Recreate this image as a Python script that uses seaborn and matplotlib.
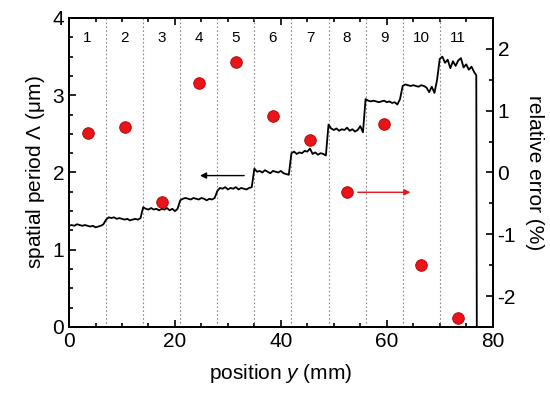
import numpy as np
import pandas as pd
import matplotlib
matplotlib.use("Agg")
import matplotlib.pyplot as plt
from matplotlib.ticker import MultipleLocator
import seaborn as sns

# measured grating period along the sample (0.5 mm sampling), um
period_trace = [
    # section 1
    1.31, 1.32, 1.31, 1.33, 1.32, 1.31, 1.32, 1.31, 1.30, 1.31, 1.29, 1.30, 1.31, 1.33,
    # section 2
    1.39, 1.42, 1.41, 1.42, 1.40, 1.41, 1.40, 1.39, 1.40, 1.38, 1.39, 1.40, 1.39, 1.41,
    # section 3
    1.55, 1.53, 1.52, 1.54, 1.52, 1.53, 1.51, 1.53, 1.52, 1.54, 1.51, 1.53, 1.50, 1.53,
    # section 4
    1.64, 1.66, 1.67, 1.66, 1.65, 1.67, 1.66, 1.65, 1.67, 1.66, 1.64, 1.66, 1.65, 1.67,
    # section 5
    1.76, 1.80, 1.79, 1.81, 1.78, 1.80, 1.79, 1.81, 1.78, 1.80, 1.79, 1.78, 1.80, 1.81,
    # section 6
    2.05, 2.01, 2.02, 2.00, 2.03, 2.01, 1.99, 2.02, 2.01, 2.00, 2.02, 1.99, 1.98, 1.97,
    # section 7
    2.25, 2.27, 2.24, 2.26, 2.25, 2.28, 2.27, 2.31, 2.24, 2.26, 2.23, 2.25, 2.24, 2.22,
    # section 8
    2.62, 2.57, 2.55, 2.57, 2.54, 2.56, 2.55, 2.58, 2.54, 2.56, 2.53, 2.55, 2.60, 2.52,
    # section 9
    2.95, 2.93, 2.92, 2.93, 2.92, 2.91, 2.92, 2.93, 2.91, 2.92, 2.90, 2.91, 2.88, 2.95,
    # section 10
    3.12, 3.14, 3.13, 3.12, 3.13, 3.12, 3.11, 3.13, 3.12, 3.10, 3.04, 3.11, 3.03, 3.20,
    # section 11
    3.47, 3.50, 3.42, 3.46, 3.35, 3.44, 3.38, 3.45, 3.48, 3.36, 3.40, 3.33, 3.37, 3.30,
    # end of sample
    3.26, 0.0,
]
trace_pos = list(np.arange(0, 77, 0.5)) + [76.9, 77.0]

# relative error per section
section_ids = [str(i) for i in range(1, 12)]
section_pos = [3.5, 10.5, 17.5, 24.5, 31.5, 38.5, 45.5, 52.5, 59.5, 66.5, 73.5]
rel_error = [0.64, 0.74, -0.47, 1.44, 1.79, 0.92, 0.53, -0.32, 0.78, -1.50, -2.36]
section_edges = [7, 14, 21, 28, 35, 42, 49, 56, 63, 70]

trace = pd.DataFrame({"pos": trace_pos, "period": period_trace})
errs = pd.DataFrame({"pos": section_pos, "err": rel_error})

sns.set_style("ticks")
plt.rcParams["font.family"] = ["Liberation Sans", "DejaVu Sans"]
plt.rcParams["mathtext.fontset"] = "custom"
plt.rcParams["mathtext.rm"] = "Liberation Sans"
plt.rcParams["mathtext.it"] = "Liberation Sans:italic"
plt.rcParams["axes.unicode_minus"] = False
for k in ["text.color", "axes.labelcolor", "xtick.color", "ytick.color", "axes.edgecolor"]:
    plt.rcParams[k] = "black"

fig = plt.figure(figsize=(5.5, 3.98), dpi=100)
ax = fig.add_axes([0.1255, 0.1784, 0.7703, 0.7764])
ax2 = ax.twinx()

for e in section_edges:
    ax.axvline(e, color="#888888", ls=(0, (1.5, 2)), lw=0.8, zorder=1)

sns.lineplot(data=trace, x="pos", y="period", ax=ax, color="black", lw=1.3, zorder=3)
sns.scatterplot(data=errs, x="pos", y="err", ax=ax2, color="#e8141a", s=70,
                edgecolor="#b00000", linewidth=0.6, zorder=4)

for lab, p in zip(section_ids, section_pos):
    ax.text(p, 3.74, lab, ha="center", va="center", fontsize=11)

# arrows pointing to the matching axes
ax.annotate("", xy=(24.2, 1.96), xytext=(33.6, 1.96),
            arrowprops=dict(arrowstyle="-|>", color="black", lw=1.0, mutation_scale=9))
ax2.annotate("", xy=(65.0, -0.32), xytext=(54.0, -0.32),
             arrowprops=dict(arrowstyle="-|>", color="#e8141a", lw=1.0, mutation_scale=9))

ax.set_xlim(0, 80)
ax.set_ylim(0, 4)
ax2.set_ylim(-2.5, 2.5)
ax.xaxis.set_major_locator(MultipleLocator(20))
ax.xaxis.set_minor_locator(MultipleLocator(5))
ax.yaxis.set_major_locator(MultipleLocator(1))
ax.yaxis.set_minor_locator(MultipleLocator(0.25))
ax2.yaxis.set_major_locator(MultipleLocator(1))
ax2.yaxis.set_minor_locator(MultipleLocator(0.5))

ax.tick_params(which="both", direction="in", top=True, right=False, labelsize=15, width=1.2)
ax.tick_params(which="major", length=5)
ax.tick_params(which="minor", length=3)
ax2.tick_params(which="both", direction="in", labelsize=15, width=1.2)
ax2.tick_params(which="major", length=5)
ax2.tick_params(which="minor", length=3)

for a in (ax, ax2):
    for s in a.spines.values():
        s.set_linewidth(1.4)
        s.set_visible(True)
        s.set_color("black")

ax.set_xlabel(r"position $\mathit{y}$ (mm)", fontsize=15, labelpad=8)
ax.set_ylabel(r"spatial period $\mathit{Λ}$ (μm)", fontsize=15)
ax2.set_ylabel("relative error (%)", fontsize=15, rotation=270, labelpad=20)

fig.savefig("out.png", dpi=100)
